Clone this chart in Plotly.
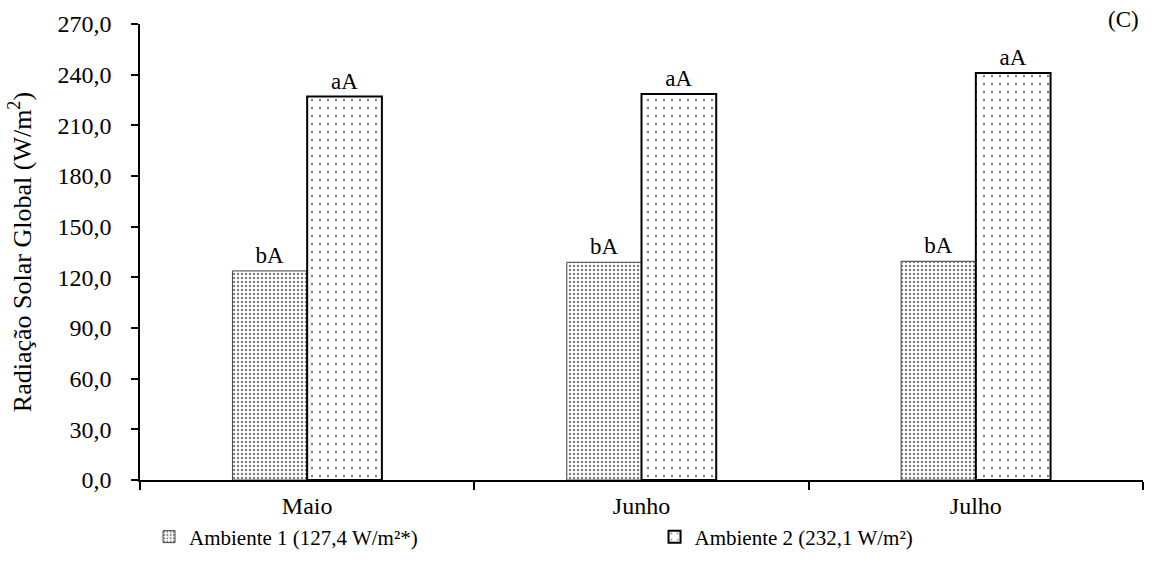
import plotly.graph_objects as go

meses = ["Maio", "Junho", "Julho"]
amb1 = [123.8, 128.9, 129.5]
amb2 = [227.0, 228.5, 241.0]
letras1 = ["bA", "bA", "bA"]
letras2 = ["aA", "aA", "aA"]
nome1 = "Ambiente 1 (127,4 W/m²*)"
nome2 = "Ambiente 2 (232,1 W/m²)"
yticks = [0, 30, 60, 90, 120, 150, 180, 210, 240, 270]

FONT = "Liberation Serif, Times New Roman, serif"

fig = go.Figure()
fig.add_trace(go.Bar(
    x=meses, y=amb1, name=nome1, text=letras1, textposition="outside",
    textfont=dict(size=23, color="black", family=FONT), cliponaxis=False,
    legend="legend",
    marker=dict(color="white", line=dict(color="#444444", width=1),
                pattern=dict(shape=".", size=4, solidity=0.3, fgcolor="black", bgcolor="white")),
))
fig.add_trace(go.Bar(
    x=meses, y=amb2, name=nome2, text=letras2, textposition="outside",
    textfont=dict(size=23, color="black", family=FONT), cliponaxis=False,
    legend="legend2",
    marker=dict(color="white", line=dict(color="black", width=2),
                pattern=dict(shape=".", size=8, solidity=0.07, fgcolor="black", bgcolor="white")),
))

legfont = dict(size=21, family=FONT, color="black")
fig.update_layout(
    width=1155, height=567,
    margin=dict(l=140, r=12, t=24, b=87, autoexpand=False),
    paper_bgcolor="white", plot_bgcolor="white",
    font=dict(family=FONT, size=23, color="black"),
    separators=",.",
    barmode="group", bargap=0.553, bargroupgap=0,
    showlegend=True,
    legend=dict(orientation="h", x=0.009, xanchor="left", y=-0.08, yanchor="top",
                font=legfont, itemwidth=30, bgcolor="rgba(0,0,0,0)"),
    legend2=dict(orientation="h", x=0.513, xanchor="left", y=-0.08, yanchor="top",
                 font=legfont, itemwidth=30, bgcolor="rgba(0,0,0,0)"),
    annotations=[dict(text="(C)", x=0.998, xref="paper", y=1.01, yref="paper",
                      xanchor="right", yanchor="middle", showarrow=False,
                      font=dict(size=23, family=FONT))],
)
fig.update_xaxes(
    showline=True, linecolor="black", linewidth=1.5,
    ticks="outside", ticklen=8, tickcolor="black", tickwidth=1.5,
    tickson="boundaries", showgrid=False, zeroline=False,
    ticklabelstandoff=3,
    tickfont=dict(size=24, family=FONT),
)
fig.update_yaxes(
    range=[0, 270], tickvals=yticks, tickformat=".1f",
    showline=True, linecolor="black", linewidth=1.5,
    ticks="outside", ticklen=7, tickcolor="black", tickwidth=1.5,
    showgrid=False, zeroline=False,
    ticklabelstandoff=15,
    tickfont=dict(size=24, family=FONT),
    title=dict(text="Radiação Solar Global (W/m<sup>2</sup>)", font=dict(size=26, family=FONT), standoff=18),
)

fig.write_html("out.html")
